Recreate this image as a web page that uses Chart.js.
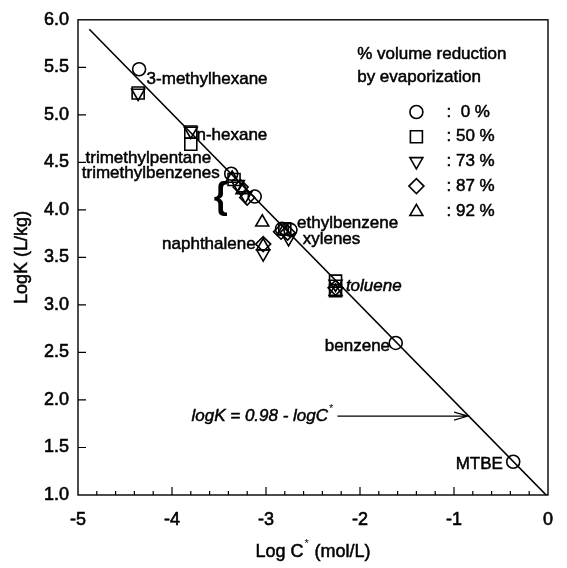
<!DOCTYPE html>
<html>
<head>
<meta charset="utf-8">
<script src="https://cdn.jsdelivr.net/npm/chart.js@4.4.0/dist/chart.umd.min.js"></script>
<style>
  html, body { margin: 0; padding: 0; background: #fff; }
</style>
</head>
<body>
<canvas id="chart" width="567" height="568"></canvas>
<script>
// Log C* (x) and LogK (y), one array per evaporation level
const reduction0 = [
    { x: -4.35, y: 5.48 }, { x: -3.37, y: 4.38 }, { x: -3.12, y: 4.14 },
    { x: -2.83, y: 3.80 }, { x: -2.74, y: 3.79 }, { x: -1.62, y: 2.60 },
    { x: -0.37, y: 1.35 }
];
const reduction50 = [
    { x: -4.36, y: 5.23 }, { x: -3.80, y: 4.82 }, { x: -3.80, y: 4.69 },
    { x: -3.34, y: 4.32 }, { x: -2.80, y: 3.80 }, { x: -2.26, y: 3.25 },
    { x: -2.26, y: 3.15 }
];
const reduction73 = [
    { x: -4.36, y: 5.23 }, { x: -3.80, y: 4.83 }, { x: -3.30, y: 4.27 },
    { x: -3.22, y: 4.15 }, { x: -3.03, y: 3.54 }, { x: -2.76, y: 3.70 },
    { x: -2.26, y: 3.22 }
];
const reduction87 = [
    { x: -3.27, y: 4.24 }, { x: -3.20, y: 4.13 }, { x: -3.03, y: 3.64 },
    { x: -2.84, y: 3.77 }, { x: -2.77, y: 3.76 }, { x: -2.26, y: 3.18 }
];
const reduction92 = [
    { x: -3.36, y: 4.33 }, { x: -3.25, y: 4.21 }, { x: -3.04, y: 3.87 },
    { x: -3.03, y: 3.62 }, { x: -2.81, y: 3.78 }, { x: -2.26, y: 3.14 }
];
// logK = 0.98 - logC*
const fitLine = [{ x: -4.88, y: 5.90 }, { x: 0, y: 0.98 }];

const legendLabels = [':  0 %', ': 50 %', ': 73 %', ': 87 %', ': 92 %'];
const xTicks = [-5, -4, -3, -2, -1, 0];
const yTicks = [1.0, 1.5, 2.0, 2.5, 3.0, 3.5, 4.0, 4.5, 5.0, 5.5, 6.0];

// compound labels, placed in data coordinates
const compoundLabels = [
    { text: '3-methylhexane', x: -4.27, y: 5.37, align: 'left' },
    { text: 'n-hexane', x: -3.74, y: 4.78, align: 'left' },
    { text: 'trimethylpentane', x: -4.92, y: 4.54, align: 'left' },
    { text: 'trimethylbenzenes', x: -4.96, y: 4.39, align: 'left' },
    { text: 'naphthalene', x: -3.11, y: 3.64, align: 'right' },
    { text: 'ethylbenzene', x: -2.67, y: 3.86, align: 'left' },
    { text: 'xylenes', x: -2.61, y: 3.69, align: 'left' },
    { text: 'toluene', x: -2.15, y: 3.20, align: 'left', italic: true },
    { text: 'benzene', x: -1.68, y: 2.56, align: 'right' },
    { text: 'MTBE', x: -0.48, y: 1.32, align: 'right' }
];

const FONT = '"Liberation Sans", Arial, sans-serif';
const markerStyles = [
    { style: 'circle', radius: 6.5, rotation: 0 },
    { style: 'rect', radius: 8.5, rotation: 0 },
    { style: 'triangle', radius: 7.5, rotation: 180 },
    { style: 'rectRot', radius: 7.5, rotation: 0 },
    { style: 'triangle', radius: 7.5, rotation: 0 }
];
const seriesData = [reduction0, reduction50, reduction73, reduction87, reduction92];

function drawMarker(ctx, m, x, y) {
    const r = m.radius;
    ctx.beginPath();
    if (m.style === 'circle') {
        ctx.arc(x, y, r, 0, Math.PI * 2);
    } else if (m.style === 'rect') {
        const s = r * Math.SQRT1_2;
        ctx.rect(x - s, y - s, 2 * s, 2 * s);
    } else if (m.style === 'rectRot') {
        ctx.moveTo(x, y - r); ctx.lineTo(x + r, y); ctx.lineTo(x, y + r); ctx.lineTo(x - r, y); ctx.closePath();
    } else {
        const dir = m.rotation === 180 ? -1 : 1;
        ctx.moveTo(x, y - dir * r);
        ctx.lineTo(x + r * 0.866, y + dir * r * 0.5);
        ctx.lineTo(x - r * 0.866, y + dir * r * 0.5);
        ctx.closePath();
    }
    ctx.stroke();
}

// scanned text looks heavy, so fill and then stroke lightly
function text(ctx, s, x, y) {
    ctx.fillText(s, x, y);
    ctx.lineWidth = 0.5;
    ctx.strokeText(s, x, y);
}

const decorations = {
    id: 'decorations',
    afterDraw(chart) {
        const { ctx, chartArea: a, scales } = chart;
        const X = v => scales.x.getPixelForValue(v);
        const Y = v => scales.y.getPixelForValue(v);
        ctx.save();
        ctx.strokeStyle = '#000';
        ctx.fillStyle = '#000';

        // frame
        ctx.lineWidth = 1.4;
        ctx.strokeRect(a.left, a.top, a.right - a.left, a.bottom - a.top);

        // inward ticks
        ctx.lineWidth = 1.2;
        ctx.beginPath();
        for (let i = 1; i < 25; i++) {
            const v = -5 + i * 0.2;
            const len = i % 5 === 0 ? 8 : 4;
            ctx.moveTo(X(v), a.bottom);
            ctx.lineTo(X(v), a.bottom - len);
        }
        yTicks.slice(1, -1).forEach(v => {
            ctx.moveTo(a.left, Y(v));
            ctx.lineTo(a.left + 8, Y(v));
        });
        ctx.stroke();

        // compound labels
        ctx.textBaseline = 'middle';
        compoundLabels.forEach(l => {
            ctx.font = (l.italic ? 'italic ' : '') + '17px ' + FONT;
            ctx.textAlign = l.align;
            text(ctx, l.text, X(l.x), Y(l.y));
        });

        // brace for the trimethylbenzenes group
        ctx.font = 'bold 36px ' + FONT;
        ctx.textAlign = 'center';
        ctx.fillText('{', X(-3.48), Y(4.12));

        // equation with arrow
        ctx.font = 'italic 17px ' + FONT;
        ctx.textAlign = 'right';
        const eqX = X(-2.34), eqY = Y(1.83);
        text(ctx, 'logK = 0.98 - logC', eqX, eqY);
        ctx.font = '11px ' + FONT;
        ctx.textAlign = 'left';
        ctx.fillText('*', eqX + 1, eqY - 7);
        const ax0 = X(-2.24), ax1 = X(-0.85);
        ctx.lineWidth = 1.1;
        ctx.beginPath();
        ctx.moveTo(ax0, eqY); ctx.lineTo(ax1, eqY);
        ctx.moveTo(ax1 - 14, eqY - 4); ctx.lineTo(ax1, eqY); ctx.lineTo(ax1 - 14, eqY + 4);
        ctx.stroke();

        // legend
        ctx.font = '17px ' + FONT;
        ctx.textAlign = 'left';
        text(ctx, '% volume reduction', X(-2.03), Y(5.64));
        text(ctx, 'by evaporization', X(-2.03), Y(5.40));
        const rows = [5.03, 4.77, 4.51, 4.25, 3.98];
        rows.forEach((r, i) => {
            ctx.lineWidth = 1.6;
            drawMarker(ctx, markerStyles[i], X(-1.40), Y(r));
            text(ctx, legendLabels[i], X(-1.08), Y(r));
        });

        // y axis title
        ctx.save();
        ctx.translate(22, (a.top + a.bottom) / 2);
        ctx.rotate(-Math.PI / 2);
        ctx.font = '18px ' + FONT;
        ctx.textAlign = 'center';
        text(ctx, 'LogK (L/kg)', 0, 0);
        ctx.restore();

        // x axis title with superscript star
        ctx.font = '18px ' + FONT;
        ctx.textAlign = 'left';
        const t1 = 'Log C', t2 = ' (mol/L)';
        const w1 = ctx.measureText(t1).width, w2 = ctx.measureText(t2).width;
        const cx = (a.left + a.right) / 2, ty = 552;
        const start = cx - (w1 + 6 + w2) / 2;
        text(ctx, t1, start, ty);
        ctx.font = '11px ' + FONT;
        ctx.fillText('*', start + w1 + 1, ty - 8);
        ctx.font = '18px ' + FONT;
        text(ctx, t2, start + w1 + 6, ty);

        ctx.restore();
    }
};

const datasets = seriesData.map((d, i) => ({
    data: d,
    pointStyle: markerStyles[i].style,
    pointRadius: markerStyles[i].radius,
    pointRotation: markerStyles[i].rotation,
    pointBorderColor: '#000',
    pointBackgroundColor: 'rgba(0,0,0,0)',
    pointBorderWidth: 1.6,
    showLine: false
}));
datasets.unshift({
    type: 'line',
    data: fitLine,
    borderColor: '#000',
    borderWidth: 1.6,
    pointRadius: 0,
    fill: false
});

const tickFont = { family: FONT, size: 18 };

new Chart(document.getElementById('chart'), {
    type: 'scatter',
    data: { datasets: datasets },
    options: {
        responsive: false,
        animation: false,
        devicePixelRatio: 1,
        layout: { padding: { top: 15, right: 14, left: 0, bottom: 0 } },
        plugins: { legend: { display: false }, tooltip: { enabled: false } },
        scales: {
            x: {
                type: 'linear', min: -5, max: 0,
                afterBuildTicks: s => { s.ticks = xTicks.map(v => ({ value: v })); },
                afterFit: s => { s.height = 73; },
                grid: { display: false, drawTicks: false },
                border: { display: false },
                ticks: { color: '#000', font: tickFont, padding: 14, textStrokeColor: '#000', textStrokeWidth: 0.6 }
            },
            y: {
                type: 'linear', min: 1, max: 6,
                afterBuildTicks: s => { s.ticks = yTicks.map(v => ({ value: v })); },
                afterFit: s => { s.width = 78; },
                grid: { display: false, drawTicks: false },
                border: { display: false },
                ticks: { color: '#000', font: tickFont, padding: 9, textStrokeColor: '#000', textStrokeWidth: 0.6, callback: v => v.toFixed(1) }
            }
        }
    },
    plugins: [decorations]
});
</script>
</body>
</html>
